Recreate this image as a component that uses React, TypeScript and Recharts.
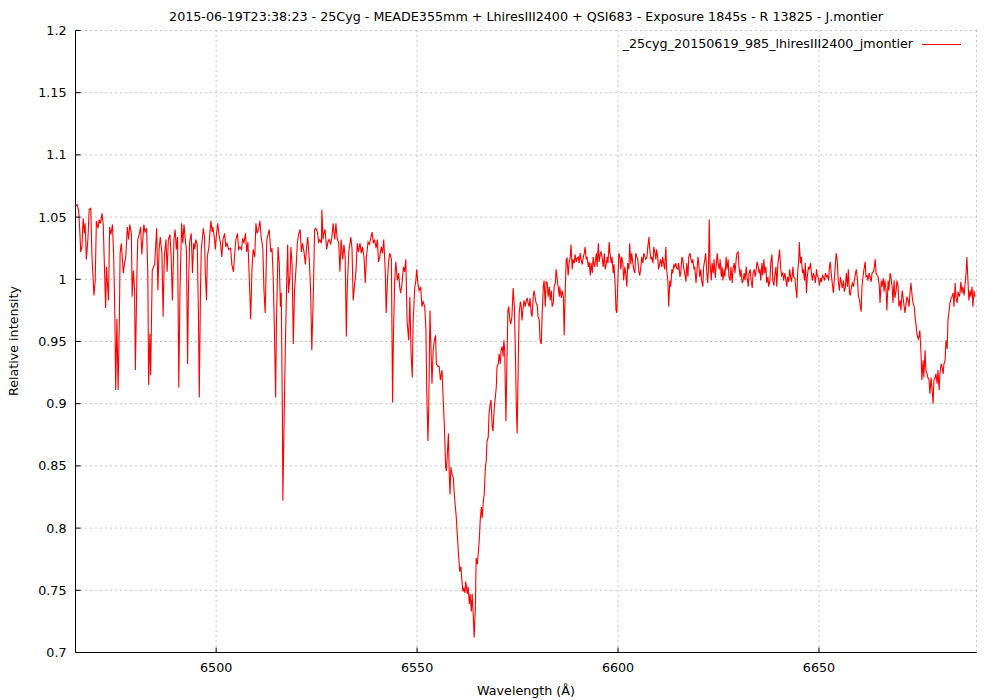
import { LineChart, Line, XAxis, YAxis, CartesianGrid, Legend } from 'recharts'

const FONT = '"DejaVu Sans", Verdana, sans-serif'
const FS = 12.7

const title =
  '2015-06-19T23:38:23 - 25Cyg - MEADE355mm + LhiresIII2400 + QSI683 - Exposure 1845s - R 13825 - J.montier'
const seriesName = '_25cyg_20150619_985_lhiresIII2400_jmontier'
const xLabel = 'Wavelength (Å)'
const yLabel = 'Relative intensity'

const xTicks = [6500, 6550, 6600, 6650]
const yTicks = [0.7, 0.75, 0.8, 0.85, 0.9, 0.95, 1, 1.05, 1.1, 1.15, 1.2]
const xRange = [6465, 6689.2]
const yRange = [0.7, 1.2]

// [wavelength (Å), relative intensity]
const spec6465 = [
  [6465.1, 1.059], [6465.4, 1.06], [6465.8, 1.055], [6466.1, 1.037], [6466.3, 1.022], [6466.6, 1.026],
  [6466.9, 1.049], [6467.2, 1.037], [6467.4, 1.045], [6467.7, 1.016], [6468.1, 1.033], [6468.4, 1.056],
  [6468.8, 1.057], [6469.1, 1.018], [6469.6, 0.987], [6469.9, 0.999], [6470.2, 1.047], [6470.6, 1.041],
  [6470.9, 1.048], [6471.2, 1.045], [6471.6, 1.053], [6471.9, 1.044], [6472.2, 1.01], [6472.5, 0.977],
  [6472.7, 1.01], [6473.0, 0.994], [6473.2, 0.983], [6473.5, 1.042], [6473.8, 1.036], [6474.2, 1.044],
  [6474.5, 1.018], [6474.8, 0.97], [6475.0, 0.911], [6475.3, 0.968], [6475.6, 0.911], [6475.9, 0.964],
  [6476.1, 1.021], [6476.4, 1.029], [6476.9, 1.005], [6477.2, 1.013], [6477.5, 1.018], [6477.9, 1.042],
  [6478.2, 1.032], [6478.5, 1.044], [6478.9, 1.037], [6479.1, 0.986], [6479.4, 1.007], [6479.7, 0.991],
  [6479.9, 0.927], [6480.3, 1.007], [6480.5, 1.032], [6480.9, 1.037], [6481.2, 1.042], [6481.5, 1.02],
  [6481.8, 1.034], [6482.0, 1.044], [6482.3, 1.038], [6482.7, 1.041], [6483.0, 1.002], [6483.2, 0.915],
  [6483.5, 0.956], [6483.7, 0.923], [6484.1, 1.007], [6484.4, 1.01], [6484.7, 1.012], [6485.2, 1.041],
  [6485.5, 0.991], [6485.8, 1.024], [6486.1, 1.034], [6486.5, 1.021], [6486.8, 0.97], [6487.1, 1.018],
  [6487.5, 1.032], [6487.8, 1.006], [6488.1, 1.032], [6488.5, 1.036], [6488.8, 1.018], [6489.1, 0.983],
  [6489.5, 1.032], [6489.8, 1.04], [6490.1, 1.024], [6490.4, 1.034], [6490.7, 0.913], [6491.0, 0.991],
  [6491.4, 1.045], [6491.7, 1.029], [6492.0, 1.044], [6492.4, 1.029], [6492.6, 1.024], [6492.9, 0.932],
  [6493.1, 0.991], [6493.4, 1.03], [6493.8, 1.037], [6494.1, 1.005], [6494.4, 1.029], [6494.7, 1.024],
  [6494.9, 1.032], [6495.3, 1.028], [6495.6, 0.97], [6495.8, 0.905], [6496.1, 0.991], [6496.3, 1.024],
  [6496.8, 1.041], [6497.1, 1.034], [6497.3, 1.005], [6497.6, 0.983], [6497.8, 1.018], [6498.2, 1.026],
  [6498.4, 1.036], [6498.7, 1.047], [6499.0, 1.038], [6499.2, 1.042], [6499.6, 1.032], [6499.8, 1.024],
  [6500.1, 1.037], [6500.4, 1.045], [6500.7, 1.036], [6501.1, 1.029], [6501.4, 1.018], [6501.7, 1.032],
  [6502.1, 1.037], [6502.4, 1.026], [6502.7, 1.029], [6503.1, 1.024],
]

const spec6504 = [
  [6503.6, 1.025], [6503.9, 1.012], [6504.3, 1.006], [6504.6, 1.02], [6504.9, 1.032], [6505.3, 1.037],
  [6505.6, 1.024], [6505.9, 1.026], [6506.3, 1.024], [6506.6, 1.033], [6506.9, 1.029], [6507.3, 1.037],
  [6507.6, 1.022], [6507.9, 1.03], [6508.2, 1.005], [6508.6, 0.968], [6508.9, 1.007], [6509.2, 1.024],
  [6509.6, 1.018], [6509.9, 1.045], [6510.2, 1.037], [6510.6, 1.041], [6510.9, 1.047], [6511.2, 1.034],
  [6511.6, 1.025], [6511.9, 0.991], [6512.2, 0.973], [6512.6, 1.032], [6512.9, 1.036], [6513.2, 1.04],
  [6513.6, 1.022], [6513.9, 1.025], [6514.2, 1.001], [6514.5, 0.959], [6514.8, 0.905], [6515.0, 0.964],
  [6515.4, 1.026], [6515.7, 1.013], [6516.0, 0.978], [6516.2, 0.989], [6516.5, 0.884], [6516.6, 0.822],
  [6516.9, 0.884], [6517.2, 0.943], [6517.5, 0.991], [6517.8, 1.028], [6518.0, 0.989], [6518.4, 1.005],
  [6518.6, 1.026], [6518.9, 1.012], [6519.2, 0.948], [6519.5, 0.991], [6519.9, 1.01], [6520.2, 1.029],
  [6520.5, 1.036], [6520.9, 1.04], [6521.2, 1.022], [6521.5, 1.029], [6521.9, 1.021], [6522.2, 1.012],
  [6522.5, 1.026], [6522.8, 1.034], [6523.2, 1.014], [6523.5, 0.991], [6523.8, 0.943], [6524.2, 0.991],
  [6524.5, 1.04], [6524.8, 1.041], [6525.2, 1.038], [6525.5, 1.03], [6525.8, 1.032], [6526.2, 1.029],
  [6526.3, 1.056], [6526.6, 1.032], [6526.8, 1.037], [6527.1, 1.04], [6527.5, 1.024], [6527.8, 1.03],
  [6528.1, 1.032], [6528.5, 1.028], [6528.8, 1.034], [6529.1, 1.045], [6529.5, 1.032], [6529.8, 1.045],
  [6530.1, 1.033], [6530.5, 1.029], [6530.8, 1.006], [6531.1, 1.032], [6531.5, 1.016], [6531.8, 1.028],
  [6532.1, 1.018], [6532.4, 0.954], [6532.6, 0.991], [6533.0, 1.022], [6533.3, 1.029], [6533.5, 1.034],
  [6533.8, 1.025], [6534.1, 0.983], [6534.4, 0.994], [6534.8, 1.007], [6535.1, 1.029], [6535.4, 1.022],
  [6535.8, 1.029], [6536.1, 1.021], [6536.4, 1.026], [6536.8, 1.018], [6537.1, 0.997], [6537.4, 1.018],
  [6537.8, 1.03], [6538.1, 1.028], [6538.4, 1.032], [6538.8, 1.038], [6539.1, 1.029], [6539.4, 1.032],
  [6539.8, 1.025], [6540.1, 1.032], [6540.4, 1.014], [6540.7, 1.018], [6541.1, 1.026], [6541.4, 1.021],
  [6541.7, 1.032], [6542.1, 1.005], [6542.3, 0.973], [6542.6, 0.997], [6542.9, 1.014], [6543.2, 1.021],
  [6543.6, 1.016], [6543.9, 0.901], [6544.1, 0.951], [6544.4, 0.997], [6544.7, 1.014], [6545.1, 0.999],
  [6545.4, 1.005], [6545.7, 0.993],
]

// H-alpha profile
const spec6546 = [
  [6545.9, 0.989], [6546.2, 0.995], [6546.6, 1.01], [6546.9, 1.006], [6547.2, 1.016], [6547.5, 0.967],
  [6547.9, 0.951], [6548.2, 0.986], [6548.5, 0.94], [6548.8, 0.921], [6549.0, 0.964], [6549.4, 0.993],
  [6549.7, 0.999], [6549.9, 1.008], [6550.2, 0.997], [6550.5, 0.991], [6550.9, 0.994], [6551.2, 0.978],
  [6551.5, 0.982], [6551.9, 0.978], [6552.2, 0.959], [6552.4, 0.911], [6552.7, 0.87], [6552.9, 0.897],
  [6553.2, 0.975], [6553.4, 0.951], [6553.7, 0.916], [6554.0, 0.943], [6554.3, 0.951], [6554.6, 0.955],
  [6554.8, 0.932], [6555.2, 0.93], [6555.5, 0.93], [6555.8, 0.919], [6556.2, 0.927], [6556.5, 0.903],
  [6556.8, 0.881], [6557.1, 0.849], [6557.3, 0.846], [6557.7, 0.87], [6557.8, 0.876], [6558.0, 0.843],
  [6558.2, 0.827], [6558.4, 0.849], [6558.7, 0.843], [6559.0, 0.841], [6559.3, 0.825], [6559.7, 0.811],
  [6560.0, 0.795], [6560.3, 0.779], [6560.6, 0.765], [6560.9, 0.769], [6561.1, 0.76], [6561.4, 0.749],
  [6561.6, 0.752], [6561.9, 0.748], [6562.1, 0.757], [6562.5, 0.747], [6562.7, 0.753], [6563.0, 0.739],
  [6563.2, 0.747], [6563.5, 0.733], [6563.7, 0.747], [6564.0, 0.728], [6564.2, 0.712], [6564.5, 0.736],
  [6564.7, 0.776], [6565.0, 0.771], [6565.2, 0.779], [6565.5, 0.792], [6565.7, 0.806], [6566.0, 0.817],
  [6566.2, 0.808], [6566.5, 0.822], [6566.7, 0.827], [6567.0, 0.849], [6567.2, 0.854], [6567.4, 0.87],
  [6567.7, 0.873], [6567.9, 0.892], [6568.2, 0.9], [6568.4, 0.903], [6568.7, 0.881], [6568.9, 0.878],
  [6569.2, 0.897], [6569.4, 0.903], [6569.7, 0.913], [6569.9, 0.93], [6570.2, 0.932], [6570.4, 0.94],
  [6570.7, 0.932], [6570.9, 0.943], [6571.2, 0.946], [6571.4, 0.938], [6571.6, 0.951], [6571.8, 0.943],
  [6572.1, 0.886], [6572.3, 0.924], [6572.6, 0.975], [6572.8, 0.978], [6573.1, 0.967], [6573.3, 0.964],
  [6573.6, 0.97], [6573.9, 0.993], [6574.2, 0.978], [6574.4, 0.951], [6574.7, 0.897], [6574.9, 0.876],
  [6575.2, 0.938], [6575.4, 0.973], [6575.7, 0.982], [6575.9, 0.978], [6576.1, 0.967], [6576.4, 0.978],
  [6576.6, 0.983], [6576.9, 0.978], [6577.1, 0.982], [6577.4, 0.985], [6577.6, 0.981], [6577.9, 0.978],
  [6578.1, 0.985], [6578.4, 0.973], [6578.6, 0.97], [6578.9, 0.986], [6579.1, 0.991], [6579.4, 0.985],
  [6579.6, 0.981], [6579.9, 0.979], [6580.1, 0.97], [6580.4, 0.967], [6580.6, 0.951], [6580.9, 0.948],
  [6581.1, 0.97], [6581.4, 0.994], [6581.6, 0.999], [6581.9, 0.978], [6582.1, 0.998], [6582.4, 0.997],
  [6582.6, 0.986], [6582.9, 0.994], [6583.1, 0.983], [6583.4, 0.991], [6583.6, 0.978], [6583.9, 0.981],
  [6584.1, 0.994], [6584.4, 0.997], [6584.6, 1.008], [6584.9, 0.999], [6585.1, 0.994], [6585.4, 0.986],
]

const spec6586 = [
  [6585.5, 0.994], [6585.9, 0.985], [6586.1, 0.991], [6586.4, 0.986], [6586.6, 0.955], [6586.9, 0.994],
  [6587.1, 1.016], [6587.3, 1.017], [6587.6, 1.003], [6587.8, 1.013], [6588.1, 1.018], [6588.3, 1.028],
  [6588.6, 1.008], [6588.8, 1.016], [6589.1, 1.013], [6589.3, 1.02], [6589.6, 1.014], [6589.8, 1.017],
  [6590.1, 1.018], [6590.3, 1.013], [6590.6, 1.021], [6590.8, 1.016], [6591.1, 1.012], [6591.3, 1.017],
  [6591.6, 1.021], [6591.8, 1.026], [6592.1, 1.016], [6592.3, 1.018], [6592.6, 1.01], [6592.8, 1.014],
  [6593.1, 1.003], [6593.3, 1.013], [6593.6, 1.005], [6593.8, 1.018], [6594.1, 1.01], [6594.3, 1.013],
  [6594.6, 1.021], [6594.8, 1.01], [6595.1, 1.029], [6595.3, 1.014], [6595.6, 1.021], [6595.8, 1.022],
  [6596.1, 1.016], [6596.3, 1.01], [6596.6, 1.021], [6596.8, 1.008], [6597.1, 1.013], [6597.3, 1.018],
  [6597.5, 1.013], [6597.8, 1.03], [6598.0, 1.021], [6598.3, 1.013], [6598.5, 1.018], [6598.8, 1.005],
  [6599.0, 1.012], [6599.3, 0.994], [6599.5, 0.975], [6599.7, 0.973], [6600.0, 1.002], [6600.2, 1.021],
  [6600.5, 1.017], [6600.7, 1.008], [6600.9, 1.018], [6601.2, 1.013], [6601.4, 0.999], [6601.7, 1.01],
  [6601.9, 1.005], [6602.2, 0.994], [6602.4, 1.013], [6602.7, 1.008], [6602.9, 1.029], [6603.2, 1.012],
  [6603.4, 1.021], [6603.7, 1.013], [6603.9, 1.008], [6604.2, 1.005], [6604.4, 1.021], [6604.7, 1.018],
  [6604.9, 1.016], [6605.2, 1.006], [6605.4, 1.003], [6605.7, 1.01], [6605.9, 1.018], [6606.2, 1.013],
  [6606.4, 1.021], [6606.7, 1.018], [6606.9, 1.016], [6607.2, 1.018], [6607.4, 1.026], [6607.7, 1.034],
  [6607.9, 1.024], [6608.2, 1.016], [6608.4, 1.018], [6608.7, 1.013], [6608.9, 1.026], [6609.2, 1.021],
  [6609.4, 1.016], [6609.6, 1.024], [6609.9, 1.017], [6610.1, 1.008], [6610.4, 1.013], [6610.6, 1.016],
  [6610.9, 1.01], [6611.1, 1.018], [6611.4, 1.012], [6611.6, 1.008], [6611.9, 1.026], [6612.1, 1.008],
  [6612.4, 0.999], [6612.6, 0.978], [6612.9, 0.999], [6613.1, 0.994], [6613.4, 1.008], [6613.6, 1.005],
  [6613.9, 1.012], [6614.1, 1.01], [6614.4, 1.013], [6614.6, 1.009], [6614.9, 1.008], [6615.1, 1.013],
  [6615.4, 1.002], [6615.6, 1.005], [6615.9, 1.018], [6616.1, 1.016], [6616.4, 1.008], [6616.6, 1.005],
  [6616.9, 0.998], [6617.1, 1.013], [6617.4, 1.002], [6617.6, 1.018], [6617.9, 1.021], [6618.1, 1.017],
  [6618.4, 1.013], [6618.6, 1.016], [6618.9, 1.008], [6619.1, 1.01], [6619.4, 0.997], [6619.6, 1.005],
  [6619.9, 1.018], [6620.1, 1.013], [6620.3, 1.002], [6620.6, 1.008], [6620.8, 0.999], [6621.1, 0.994],
  [6621.3, 1.01], [6621.6, 1.016], [6621.8, 1.021], [6622.1, 1.005], [6622.3, 0.997], [6622.5, 1.008],
  [6622.7, 1.048], [6622.9, 1.013], [6623.2, 0.999], [6623.4, 1.013], [6623.7, 1.005], [6623.9, 1.016],
  [6624.2, 1.001], [6624.4, 1.01], [6624.7, 1.021], [6624.9, 1.013], [6625.2, 1.008], [6625.4, 1.016],
  [6625.7, 1.002], [6625.9, 1.01], [6626.1, 0.999], [6626.4, 1.008], [6626.6, 1.002], [6626.9, 1.018],
  [6627.1, 1.008], [6627.4, 1.016], [6627.6, 1.002], [6627.9, 0.999], [6628.1, 1.01], [6628.4, 0.997],
  [6628.6, 1.008], [6628.9, 1.013], [6629.1, 1.005], [6629.4, 1.016], [6629.6, 1.021], [6629.9, 1.022],
  [6630.1, 1.01], [6630.4, 1.002], [6630.6, 1.008], [6630.9, 0.997], [6631.1, 0.999], [6631.4, 1.005],
  [6631.6, 0.999], [6631.9, 1.01], [6632.1, 1.002], [6632.4, 0.994], [6632.6, 1.005], [6632.9, 1.008],
  [6633.1, 0.999], [6633.4, 0.993], [6633.6, 1.005], [6633.9, 1.008], [6634.1, 1.002], [6634.4, 1.008],
  [6634.6, 1.014], [6634.9, 1.01], [6635.1, 1.005],
]

const spec6635 = [
  [6635.3, 1.008], [6635.5, 0.999], [6635.8, 1.013], [6636.0, 1.003], [6636.3, 1.016], [6636.5, 1.005],
  [6636.8, 1.01], [6637.0, 0.997], [6637.3, 1.002], [6637.5, 0.994], [6637.8, 0.999], [6638.0, 1.013],
  [6638.3, 1.02], [6638.5, 0.999], [6638.8, 0.995], [6639.0, 1.003], [6639.3, 1.01], [6639.5, 0.994],
  [6639.8, 1.013], [6640.0, 1.018], [6640.2, 1.024], [6640.5, 1.008], [6640.7, 1.003], [6641.0, 1.005],
  [6641.2, 0.999], [6641.5, 1.005], [6641.7, 1.001], [6642.0, 0.994], [6642.2, 1.002], [6642.5, 0.998],
  [6642.7, 1.008], [6643.0, 1.001], [6643.2, 0.998], [6643.5, 1.01], [6643.7, 1.002], [6644.0, 1.001],
  [6644.2, 0.994], [6644.5, 0.985], [6644.7, 1.005], [6645.0, 1.018], [6645.1, 1.03], [6645.4, 1.013],
  [6645.6, 1.018], [6645.9, 1.005], [6646.1, 1.008], [6646.4, 0.999], [6646.6, 1.013], [6646.9, 0.989],
  [6647.1, 1.002], [6647.4, 1.01], [6647.6, 1.008], [6647.9, 1.013], [6648.1, 1.005], [6648.4, 0.999],
  [6648.6, 1.005], [6648.9, 1.002], [6649.1, 0.997], [6649.4, 1.008], [6649.6, 1.003], [6649.9, 1.001],
  [6650.1, 0.995], [6650.4, 1.001], [6650.6, 0.998], [6650.9, 1.003], [6651.1, 1.002], [6651.4, 0.999],
  [6651.6, 1.005], [6651.9, 1.002], [6652.1, 1.003], [6652.4, 0.999], [6652.6, 1.01], [6652.8, 1.014],
  [6653.1, 1.003], [6653.3, 0.997], [6653.6, 0.989], [6653.8, 0.999], [6654.1, 1.013], [6654.3, 1.021],
  [6654.6, 1.013], [6654.8, 0.998], [6655.1, 0.991], [6655.3, 1.002], [6655.6, 0.997], [6655.8, 0.993],
  [6656.1, 0.999], [6656.3, 0.99], [6656.6, 0.994], [6656.8, 1.005], [6657.1, 0.994], [6657.3, 1.008],
  [6657.6, 0.989], [6657.8, 0.987], [6658.1, 0.994], [6658.3, 0.997], [6658.6, 0.994], [6658.8, 0.999],
  [6659.1, 1.005], [6659.3, 1.008], [6659.6, 0.999], [6659.8, 0.987], [6660.1, 0.983], [6660.3, 0.978],
  [6660.5, 0.974], [6660.7, 0.994], [6661.0, 1.003], [6661.2, 1.008], [6661.5, 1.014], [6661.7, 1.002],
  [6662.0, 1.003], [6662.2, 0.999], [6662.5, 1.005], [6662.7, 1.002], [6663.0, 0.998], [6663.2, 1.005],
  [6663.5, 1.006], [6663.7, 1.008], [6664.0, 1.016], [6664.2, 1.005], [6664.5, 1.003], [6664.7, 1.002],
  [6665.0, 0.995], [6665.2, 0.981], [6665.5, 0.999], [6665.7, 0.994], [6666.0, 1.001], [6666.2, 0.99],
  [6666.4, 0.999], [6666.7, 0.991], [6666.9, 0.975], [6667.2, 0.999], [6667.4, 0.991], [6667.7, 1.005],
  [6667.9, 1.002], [6668.2, 0.994], [6668.4, 0.981], [6668.7, 0.999], [6668.9, 0.985], [6669.2, 0.991],
  [6669.4, 0.999], [6669.7, 0.994], [6669.9, 0.978], [6670.2, 0.983], [6670.4, 0.975], [6670.7, 0.991],
  [6670.9, 0.986], [6671.2, 0.978], [6671.4, 0.973], [6671.7, 0.981], [6671.9, 0.986], [6672.2, 0.983],
  [6672.4, 0.978], [6672.7, 0.991], [6672.9, 0.997], [6673.2, 0.986], [6673.4, 0.981], [6673.7, 0.978],
  [6673.9, 0.97], [6674.2, 0.962], [6674.4, 0.956], [6674.7, 0.952], [6674.9, 0.954], [6675.1, 0.959],
  [6675.4, 0.94], [6675.6, 0.919], [6675.9, 0.935], [6676.1, 0.921], [6676.4, 0.943], [6676.6, 0.927],
  [6676.9, 0.924], [6677.1, 0.921], [6677.4, 0.919], [6677.6, 0.908], [6677.9, 0.921], [6678.1, 0.913],
  [6678.4, 0.9], [6678.6, 0.919], [6678.9, 0.921], [6679.1, 0.924], [6679.4, 0.916], [6679.6, 0.927],
  [6679.9, 0.911], [6680.1, 0.924], [6680.4, 0.932], [6680.6, 0.93], [6680.9, 0.924], [6681.1, 0.932],
  [6681.4, 0.935], [6681.6, 0.951], [6681.9, 0.944], [6682.1, 0.967], [6682.4, 0.975], [6682.6, 0.981],
  [6682.9, 0.985], [6683.1, 0.986], [6683.4, 0.989], [6683.6, 0.978], [6683.9, 0.997], [6684.1, 0.985],
  [6684.4, 0.981], [6684.6, 0.99], [6684.9, 0.986], [6685.1, 0.989], [6685.3, 0.998], [6685.6, 0.989],
  [6685.8, 0.994], [6686.1, 0.987], [6686.3, 0.994], [6686.6, 1.005], [6686.8, 1.018], [6687.1, 0.997],
  [6687.3, 0.983], [6687.6, 0.991], [6687.8, 0.986], [6688.1, 0.994], [6688.3, 0.978], [6688.6, 0.991],
  [6688.8, 0.986],
]

const data = [...spec6465, ...spec6504, ...spec6546, ...spec6586, ...spec6635].map(([wl, flux]) => ({ wl, flux }))

const fmtY = (v: number) => String(Number(v.toFixed(2)))

// gnuplot style: ticks point into the plot
const BottomTick = (props: any) => {
  const { x, y, payload } = props
  return (
    <g>
      <line x1={x} y1={y} x2={x} y2={y - 5} stroke="#000" />
      <text x={x} y={y + 19} textAnchor="middle" fontSize={FS} fontFamily={FONT} fill="#000">
        {payload.value}
      </text>
    </g>
  )
}

const TopTick = (props: any) => {
  const { x, y } = props
  return <line x1={x} y1={y} x2={x} y2={y + 5} stroke="#000" />
}

const LeftTick = (props: any) => {
  const { x, y, payload } = props
  return (
    <g>
      <line x1={x} y1={y} x2={x + 5} y2={y} stroke="#000" />
      <text x={x - 9} y={y + 4.5} textAnchor="end" fontSize={FS} fontFamily={FONT} fill="#000">
        {fmtY(payload.value)}
      </text>
    </g>
  )
}

const RightTick = (props: any) => {
  const { x, y } = props
  return <line x1={x} y1={y} x2={x - 5} y2={y} stroke="#000" />
}

const renderLegend = () => (
  <div style={{ display: 'flex', alignItems: 'center', fontFamily: FONT, fontSize: FS, color: '#000', lineHeight: '14px' }}>
    <span>{seriesName}</span>
    <span style={{ display: 'inline-block', width: 39, height: 1, background: '#ff0000', marginLeft: 9 }} />
  </div>
)

export default function App() {
  return (
    <div style={{ position: 'absolute', left: 0, top: 0, width: 1000, height: 700, background: '#fff', fontFamily: FONT }}>
      <LineChart width={1000} height={700} data={data} margin={{ top: 30.5, right: 23.5, bottom: 0, left: 0 }}>
        <CartesianGrid stroke="#8c8c8c" strokeDasharray="1 4" />
        <XAxis
          dataKey="wl"
          type="number"
          domain={xRange}
          ticks={xTicks}
          allowDataOverflow
          height={47.5}
          stroke="#000"
          tickLine={false}
          tickSize={0}
          tickMargin={0}
          tick={<BottomTick />}
        />
        <XAxis
          xAxisId="top"
          orientation="top"
          dataKey="wl"
          type="number"
          domain={xRange}
          ticks={xTicks}
          allowDataOverflow
          height={0}
          stroke="#000"
          tickLine={false}
          tickSize={0}
          tickMargin={0}
          tick={<TopTick />}
        />
        <YAxis
          type="number"
          domain={yRange}
          ticks={yTicks}
          allowDataOverflow
          width={75.5}
          stroke="#000"
          tickLine={false}
          tickSize={0}
          tickMargin={0}
          tick={<LeftTick />}
        />
        <YAxis
          yAxisId="right"
          orientation="right"
          type="number"
          domain={yRange}
          ticks={yTicks}
          allowDataOverflow
          width={0}
          stroke="#000"
          tickLine={false}
          tickSize={0}
          tickMargin={0}
          tick={<RightTick />}
        />
        <Legend
          layout="vertical"
          align="center"
          verticalAlign="middle"
          wrapperStyle={{ top: 37, right: 39, left: 'auto', width: 'auto' }}
          content={renderLegend}
        />
        <Line
          type="linear"
          dataKey="flux"
          name={seriesName}
          stroke="#ff0000"
          strokeWidth={1.1}
          dot={false}
          activeDot={false}
          isAnimationActive={false}
        />
      </LineChart>
      <div style={{ position: 'absolute', left: 526, top: 15.5, transform: 'translate(-50%, -50%)', whiteSpace: 'nowrap', fontSize: FS, color: '#000' }}>
        {title}
      </div>
      <div style={{ position: 'absolute', left: 526, top: 690, transform: 'translate(-50%, -50%)', whiteSpace: 'nowrap', fontSize: FS, color: '#000' }}>
        {xLabel}
      </div>
      <div style={{ position: 'absolute', left: 13, top: 341, transform: 'translate(-50%, -50%) rotate(-90deg)', whiteSpace: 'nowrap', fontSize: FS, color: '#000' }}>
        {yLabel}
      </div>
    </div>
  )
}
